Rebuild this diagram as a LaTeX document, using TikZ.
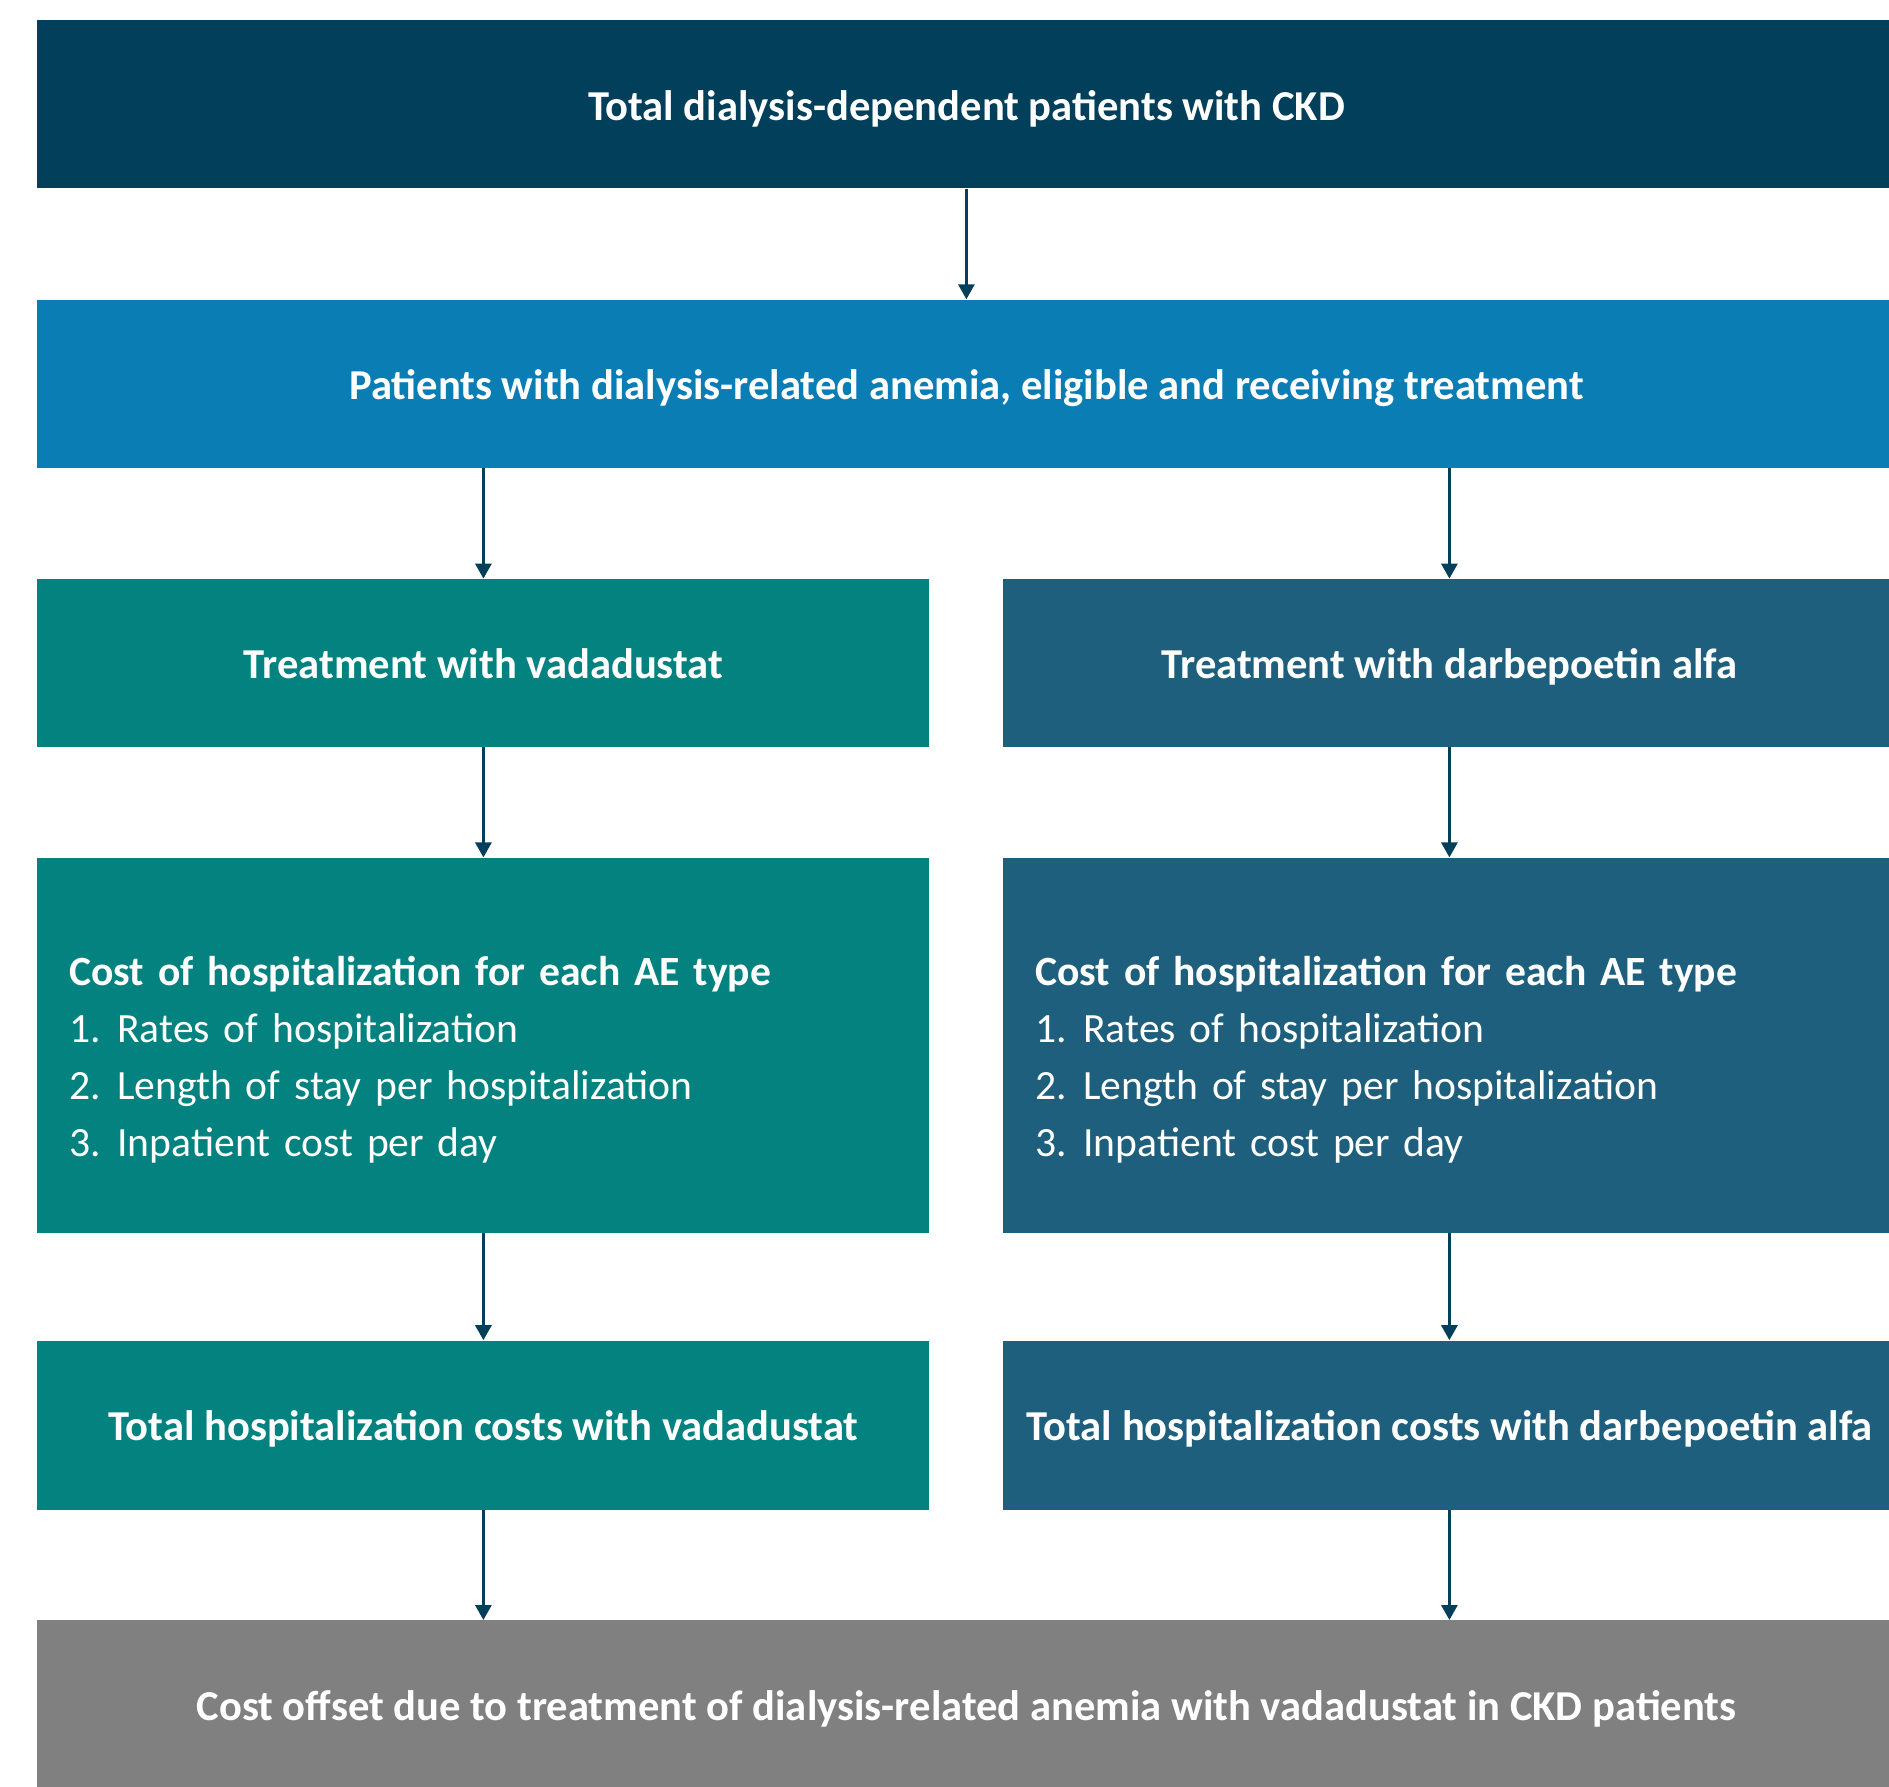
\documentclass[tikz,border=0pt]{standalone}
\usepackage{fontspec}
\setmainfont{Carlito}
\usetikzlibrary{positioning,arrows.meta}
\definecolor{navy}{HTML}{023F5A}
\definecolor{sky}{HTML}{0A7DB4}
\definecolor{vadateal}{HTML}{03827F}
\definecolor{darbe}{HTML}{1D5F7D}
\definecolor{offgray}{HTML}{808080}
\newcommand{\itemno}[1]{\makebox[24pt][l]{#1}}
\newcommand{\costlist}{%
  \rule{0pt}{29pt}\textbf{Cost of hospitalization for each AE type}\\
  \itemno{1.}Rates of hospitalization\\
  \itemno{2.}Length of stay per hospitalization\\
  \itemno{3.}Inpatient cost per day}

\begin{document}
\begin{tikzpicture}[>={Triangle[width=8pt,length=7.5pt]},
   plain/.style={text=white,inner sep=0pt},
   box/.style={plain,font=\fontsize{21.3}{24}\selectfont\bfseries,
     minimum height=84pt,text height=16pt,text depth=0.2pt,align=center},
   wide/.style={box,minimum width=929pt},
   col/.style={box,minimum width=446pt},
   cost/.style={plain,minimum width=446pt,minimum height=187.5pt,text width=414pt,
     inner xsep=16pt,align=left,font=\fontsize{20.8}{28.5}\selectfont},
   flow/.style={->,navy,line width=1.5pt}]
  \path[use as bounding box,fill=white] (0,0) rectangle (944.5pt,-893.5pt);

  \node[wide,fill=navy,anchor=north west] (total) at (18.5pt,-10pt)
    {Total dialysis-dependent patients with CKD};
  \node[wide,fill=sky,below=55.25pt of total] (anemia)
    {Patients with dialysis-related anemia, eligible and receiving treatment};

  \node[col,fill=vadateal,below right=55.25pt and 0pt of anemia.south west] (vada)
    {Treatment with vadadustat};
  \node[col,fill=darbe,below left=55.25pt and 0pt of anemia.south east] (darb)
    {Treatment with darbepoetin alfa};

  \node[cost,fill=vadateal,below=55pt of vada] (vadacost) {\costlist};
  \node[cost,fill=darbe,below=55pt of darb] (darbcost) {\costlist};

  \node[col,fill=vadateal,minimum height=84.5pt,below=53.5pt of vadacost] (vadatotal)
    {Total hospitalization costs with vadadustat};
  \node[col,fill=darbe,minimum height=84.5pt,below=53.5pt of darbcost] (darbtotal)
    {Total hospitalization costs with darbepoetin alfa};

  \node[wide,fill=offgray,minimum height=84.5pt,
    below right=55pt and 0pt of vadatotal.south west] (offset)
    {Cost offset due to treatment of dialysis-related anemia with vadadustat in CKD patients};

  \path[flow]
   (total) edge (anemia)
   (anemia.south -| vada) edge (vada)
   (anemia.south -| darb) edge (darb)
   (vada) edge (vadacost)
   (darb) edge (darbcost)
   (vadacost) edge (vadatotal)
   (darbcost) edge (darbtotal)
   (vadatotal) edge (vadatotal.south |- offset.north)
   (darbtotal) edge (darbtotal.south |- offset.north);
\end{tikzpicture}
\end{document}
